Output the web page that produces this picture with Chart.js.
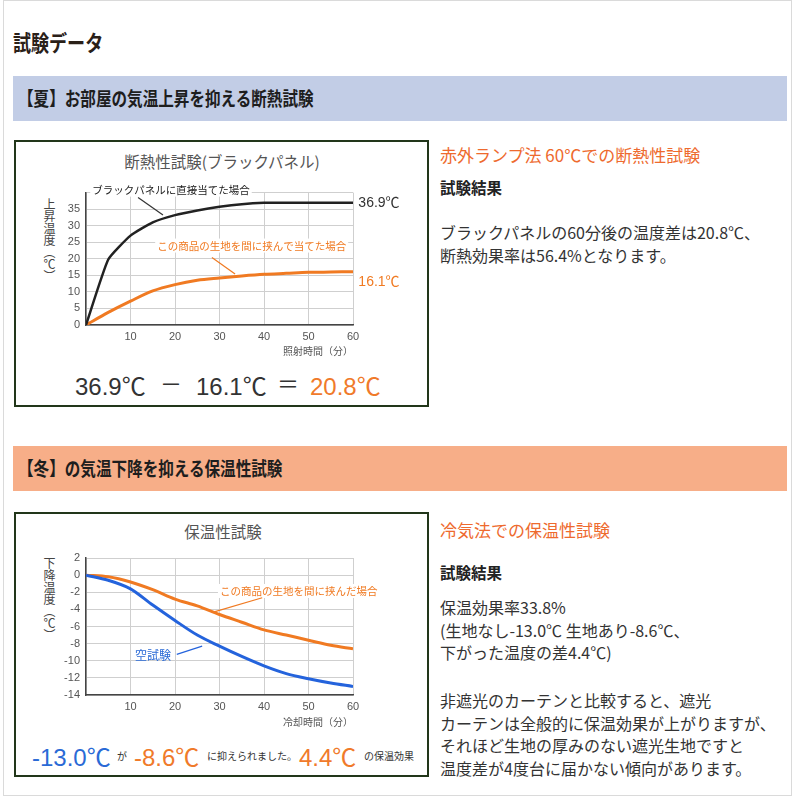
<!DOCTYPE html>
<html lang="ja">
<head>
<meta charset="utf-8">
<script src="https://cdn.jsdelivr.net/npm/chart.js@4.4.1/dist/chart.umd.min.js"></script>
<style>
  body { margin: 0; width: 800px; height: 800px; background: #fff; position: relative; overflow: hidden;
         font-family: "Noto Sans CJK JP", "Noto Sans", sans-serif; color: #333; }
  .abs { position: absolute; white-space: nowrap; }
  .frame { left: 3px; top: 0; width: 787px; height: 794px; border: 1px solid #dadada; }
  .squeeze { display: inline-block; transform-origin: left center; }
  .band { left: 13px; width: 774px; height: 45px; }
  .box { left: 14px; width: 415px; background: #fff; border: 2px solid #22361a; box-sizing: border-box; }
  .ctitle { font-size: 15.5px; color: #555; transform: translateX(-50%); }
  .ytitle { writing-mode: vertical-rl; font-size: 12px; color: #444; line-height: 12px; }
  .big { font-family: "Liberation Sans", "Noto Sans CJK JP", sans-serif; font-size: 24px; }
  .sign { font-family: "Noto Sans CJK JP", sans-serif; font-size: 22px; color: #333; }
  .small { font-size: 10px; }
  .orange { color: #f07a2a; }
  .blue { color: #2a6ad6; }
  .rhead { left: 440px; font-size: 17px; color: #ee6a2e; }
  .rbold { left: 440px; font-size: 15.5px; font-weight: bold; color: #222; }
  .rtext { left: 440px; font-size: 16px; color: #333; line-height: 22.5px; }
</style>
</head>
<body>
<div class="abs frame"></div>

<div class="abs" style="left:13px; top:25px; font-size:22px; font-weight:bold; color:#2a2018;">
  <span class="squeeze" style="transform:scaleX(0.82);">試験データ</span>
</div>

<div class="abs band" style="top:76px; background:#c2cde6;"></div>
<div class="abs" style="left:18px; top:84px; font-size:19px; font-weight:bold; color:#1e1e1e;">
  <span class="squeeze" style="transform:scaleX(0.82);">【夏】お部屋の気温上昇を抑える断熱試験</span>
</div>

<div class="abs box" style="top:140px; height:267px;"></div>
<div class="abs ctitle" style="left:222px; top:150px;">断熱性試験(ブラックパネル)</div>
<div class="abs ytitle" style="left:43px; top:198px;">上昇温度（℃）</div>
<div class="abs" style="left:20px; top:180px; width:400px; height:180px;"><canvas id="heatChart"></canvas></div>
<div class="abs big" style="left:75px; top:367px; color:#333;">36.9℃</div>
<div class="abs sign" style="left:160px; top:366px;">－</div>
<div class="abs big" style="left:196px; top:367px; color:#333;">16.1℃</div>
<div class="abs sign" style="left:277px; top:366px;">＝</div>
<div class="abs big orange" style="left:310px; top:367px;">20.8℃</div>

<div class="abs rhead" style="top:142px;">赤外ランプ法 60℃での断熱性試験</div>
<div class="abs rbold" style="top:176px;">試験結果</div>
<div class="abs rtext" style="top:221px;">ブラックパネルの60分後の温度差は20.8℃、<br>断熱効果率は56.4%となります。</div>

<div class="abs band" style="top:446px; background:#f7ae88;"></div>
<div class="abs" style="left:18px; top:454px; font-size:19px; font-weight:bold; color:#1e1e1e;">
  <span class="squeeze" style="transform:scaleX(0.82);">【冬】の気温下降を抑える保温性試験</span>
</div>

<div class="abs box" style="top:512px; height:265px;"></div>
<div class="abs ctitle" style="left:223px; top:520px;">保温性試験</div>
<div class="abs ytitle" style="left:43px; top:557px;">下降温度（℃）</div>
<div class="abs" style="left:20px; top:545px; width:400px; height:185px;"><canvas id="coldChart"></canvas></div>
<div class="abs big blue" style="left:32px; top:738px;">-13.0℃</div>
<div class="abs small" style="left:117px; top:748px;">が</div>
<div class="abs big orange" style="left:134px; top:738px;">-8.6℃</div>
<div class="abs small" style="left:207px; top:748px;">に抑えられました。</div>
<div class="abs big orange" style="left:299px; top:738px;">4.4℃</div>
<div class="abs small" style="left:364px; top:748px;">の保温効果</div>

<div class="abs rhead" style="top:517px;">冷気法での保温性試験</div>
<div class="abs rbold" style="top:561px;">試験結果</div>
<div class="abs rtext" style="top:596px;">保温効果率33.8%<br>(生地なし-13.0℃ 生地あり-8.6℃、<br>下がった温度の差4.4℃)</div>
<div class="abs rtext" style="top:689px;">非遮光のカーテンと比較すると、遮光<br>カーテンは全般的に保温効果が上がりますが、<br>それほど生地の厚みのない遮光生地ですと<br>温度差が4度台に届かない傾向があります。</div>

<script>
// time axis (minutes)
const minutes = [0, 5, 10, 15, 20, 25, 30, 35, 40, 45, 50, 55, 60];

// summer: temperature rise under the lamp
const panelDirect = [0, 19.8, 27, 31, 33.2, 34.6, 35.7, 36.5, 36.9, 36.9, 36.9, 36.9, 36.9];
const panelFabric = [0, 3.8, 7.2, 10.3, 12.2, 13.5, 14.2, 14.8, 15.3, 15.6, 15.9, 16.0, 16.1];

// winter: temperature drop in cold air
const coldBlank = [0, -0.6, -1.6, -3.5, -5.3, -7.0, -8.3, -9.5, -10.6, -11.5, -12.1, -12.6, -13.0];
const coldFabric = [0, -0.2, -0.8, -1.7, -2.8, -3.6, -4.6, -5.5, -6.4, -7.0, -7.6, -8.2, -8.6];

const heatLabels = ['ブラックパネルに直接当てた場合', 'この商品の生地を間に挟んで当てた場合', '36.9℃', '16.1℃'];
const coldLabels = ['この商品の生地を間に挟んだ場合', '空試験'];

const BLACK = '#222';
const ORANGE = '#f07a22';
const BLUE = '#2463dc';

// draws the small callouts and leader lines, placed in data units
const noteLayer = {
    id: 'noteLayer',
    afterDatasetsDraw(chart, args, opts) {
        const { ctx, scales: { x, y } } = chart;
        ctx.save();
        (opts.texts || []).forEach(t => {
            ctx.font = t.font;
            ctx.textBaseline = 'middle';
            ctx.textAlign = 'left';
            const px = x.getPixelForValue(t.x);
            const py = y.getPixelForValue(t.y);
            if (t.bg) {
                const w = ctx.measureText(t.text).width;
                ctx.fillStyle = '#fff';
                ctx.fillRect(px - 2, py - 7, w + 4, 14);
            }
            ctx.fillStyle = t.color;
            ctx.fillText(t.text, px, py);
        });
        (opts.lines || []).forEach(l => {
            ctx.strokeStyle = l.color;
            ctx.lineWidth = 1.2;
            ctx.beginPath();
            ctx.moveTo(x.getPixelForValue(l.from[0]), y.getPixelForValue(l.from[1]));
            ctx.lineTo(x.getPixelForValue(l.to[0]), y.getPixelForValue(l.to[1]));
            ctx.stroke();
        });
        ctx.restore();
    }
};

function lineSet(label, data, color, width, tension) {
    const set = {
        label: label,
        data: minutes.map((m, i) => ({ x: m, y: data[i] })),
        borderColor: color,
        borderWidth: width,
        pointRadius: 0,
        fill: false
    };
    if (tension === undefined) {
        set.cubicInterpolationMode = 'monotone';
    } else {
        set.tension = tension;
    }
    return set;
}

function makeOptions(yMin, yMax, yStep, xTitle, padTop, padBottom, hideTop, notes) {
    return {
        responsive: true,
        maintainAspectRatio: false,
        animation: false,
        layout: { padding: { left: 0, right: 67, top: padTop, bottom: 0 } },
        plugins: {
            legend: { display: false },
            tooltip: { enabled: false },
            noteLayer: notes
        },
        scales: {
            x: {
                type: 'linear',
                min: 0,
                max: 60,
                ticks: {
                    stepSize: 10,
                    padding: 5,
                    color: '#555',
                    font: { family: 'Liberation Sans', size: 11 },
                    callback: v => (v === 0 ? '' : v)
                },
                grid: { color: '#cfcfcf', lineWidth: 1, drawTicks: false },
                border: { color: '#444', width: 1.5 },
                title: {
                    display: true,
                    text: xTitle,
                    align: 'end',
                    color: '#555',
                    font: { family: 'Noto Sans CJK JP', size: 10 },
                    padding: { top: 0, bottom: padBottom }
                },
                afterFit(scale) { scale.height = 35; }
            },
            y: {
                min: yMin,
                max: yMax,
                ticks: {
                    stepSize: yStep,
                    padding: 6,
                    color: '#555',
                    font: { family: 'Liberation Sans', size: 11 },
                    callback: v => (hideTop && v === yMax ? '' : v)
                },
                grid: { color: '#cfcfcf', lineWidth: 1, drawTicks: false },
                border: { color: '#444', width: 1.5 },
                afterFit(scale) { scale.width = 66; }
            }
        }
    };
}

const noteFont = '10.5px "Noto Sans CJK JP"';
const endFont = '14px "Liberation Sans", "Noto Sans CJK JP"';

new Chart(document.getElementById('heatChart').getContext('2d'), {
    type: 'line',
    data: {
        datasets: [
            lineSet('direct', panelDirect, BLACK, 2.5, 0.15),
            lineSet('fabric', panelFabric, ORANGE, 3)
        ]
    },
    options: makeOptions(0, 40, 5, '照射時間（分）', 10, 3, true, {
        lines: [
            { from: [11.7, 38.5], to: [17.3, 33.2], color: '#333' },
            { from: [28.3, 20.4], to: [33.5, 15.4], color: ORANGE }
        ],
        texts: [
            { text: heatLabels[0], x: 1.4, y: 40.9, color: '#222', font: noteFont, bg: true },
            { text: heatLabels[1], x: 16, y: 24, color: ORANGE, font: noteFont, bg: true },
            { text: heatLabels[2], x: 61.2, y: 36.9, color: '#333', font: endFont },
            { text: heatLabels[3], x: 61.2, y: 12.8, color: ORANGE, font: endFont }
        ]
    }),
    plugins: [noteLayer]
});

new Chart(document.getElementById('coldChart').getContext('2d'), {
    type: 'line',
    data: {
        datasets: [
            lineSet('blank', coldBlank, BLUE, 3),
            lineSet('fabric', coldFabric, ORANGE, 3)
        ]
    },
    options: makeOptions(-14, 2, 2, '冷却時間（分）', 13, 2, false, {
        lines: [
            { from: [39.6, -2.64], to: [29, -4.26], color: ORANGE },
            { from: [20.4, -9.25], to: [26.1, -8.3], color: BLUE }
        ],
        texts: [
            { text: coldLabels[0], x: 30.1, y: -1.85, color: ORANGE, font: noteFont, bg: true },
            { text: coldLabels[1], x: 11, y: -9.36, color: '#2a6ad6', font: '12px "Noto Sans CJK JP"', bg: false }
        ]
    }),
    plugins: [noteLayer]
});
</script>
</body>
</html>
